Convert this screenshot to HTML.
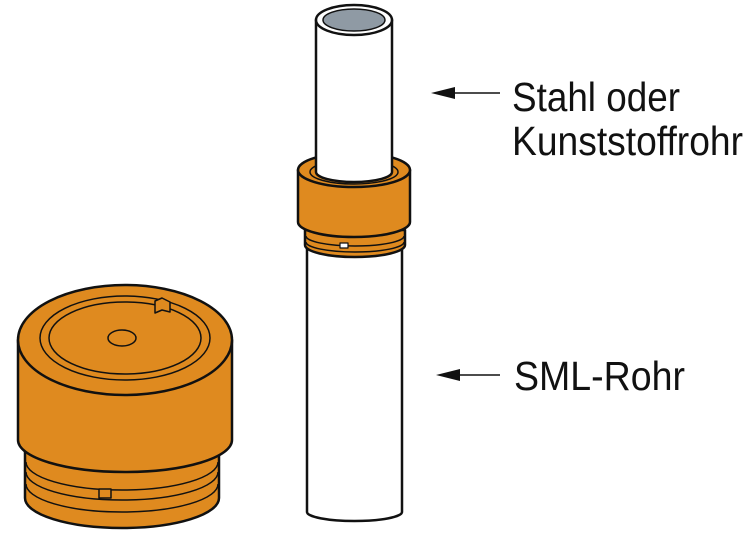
<!DOCTYPE html>
<html><head><meta charset="utf-8"><style>html,body{margin:0;padding:0;background:#fff}svg{display:block}</style></head>
<body>
<svg width="750" height="547" viewBox="0 0 750 547" xmlns="http://www.w3.org/2000/svg" stroke="#111" stroke-width="2.5" stroke-linejoin="round">
<!-- SML pipe -->
<path d="M307 240 L307 512 A47.5 9 0 0 0 402 512 L402 240 Z" fill="#fff"/>
<!-- collar -->
<path d="M305 230 L305 245 A50 12 0 0 0 405 245 L405 230 Z" fill="#df8a1f"/>
<path d="M306 236 A49 10 0 0 0 404 236" fill="none" stroke-width="1.5"/>
<path d="M306 242 A49 10 0 0 0 404 242" fill="none" stroke-width="1.5"/>
<rect x="340" y="243" width="8" height="5" fill="#fff" stroke-width="1.2"/>
<path d="M298 170 L298 222 A56 15 0 0 0 410 222 L410 170 Z" fill="#df8a1f"/>
<ellipse cx="354" cy="170" rx="56" ry="17" fill="#df8a1f"/>
<ellipse cx="354" cy="172" rx="44" ry="12" fill="none" stroke-width="1.5"/>
<!-- upper pipe -->
<path d="M316 20 L316 172 A38 10 0 0 0 392 172 L392 20 Z" fill="#fff"/>
<ellipse cx="354" cy="20" rx="38" ry="15" fill="#fff"/>
<ellipse cx="354" cy="20" rx="31" ry="11" fill="#8f9aa4" stroke-width="1.5"/>
<!-- left cap -->
<path d="M25 440 L25 498 A97 30 0 0 0 219 498 L219 440 Z" fill="#df8a1f"/>
<path d="M26 462 A96 28 0 0 0 218 462" fill="none" stroke-width="1.5"/>
<path d="M26 472 A96 28 0 0 0 218 472" fill="none" stroke-width="1.5"/>
<path d="M26 484 A96 28 0 0 0 218 484" fill="none" stroke-width="1.5"/>
<rect x="99" y="489" width="12" height="9" fill="#df8a1f" stroke-width="1.5"/>
<path d="M18 340 L18 440 A107 32 0 0 0 232 440 L232 340 Z" fill="#df8a1f"/>
<ellipse cx="125" cy="340" rx="107" ry="55" fill="#df8a1f"/>
<ellipse cx="125" cy="338" rx="85" ry="42" fill="none" stroke-width="1.5"/>
<ellipse cx="125" cy="338" rx="76" ry="36" fill="none" stroke-width="1.5"/>
<ellipse cx="122" cy="338" rx="14" ry="8" fill="#df8a1f" stroke-width="1.5"/>
<path d="M155 301 L162 298 L170 302 L170 312 L162 310 L155 313 Z" fill="#df8a1f" stroke-width="1.5"/>
<!-- arrows -->
<line x1="500" y1="93" x2="450" y2="93" stroke-width="1.5"/>
<polygon points="431,93 455,87 455,99" fill="#111" stroke="none"/>
<line x1="500" y1="375" x2="455" y2="375" stroke-width="1.5"/>
<polygon points="436,375 460,369 460,381" fill="#111" stroke="none"/>
<g font-family="Liberation Sans, sans-serif" font-size="41" fill="#111" stroke="none">
<text x="512" y="111" textLength="168" lengthAdjust="spacingAndGlyphs">Stahl oder</text>
<text x="512" y="155" textLength="231" lengthAdjust="spacingAndGlyphs">Kunststoffrohr</text>
<text x="514" y="390" textLength="171" lengthAdjust="spacingAndGlyphs">SML-Rohr</text>
</g>
</svg>
</body></html>
